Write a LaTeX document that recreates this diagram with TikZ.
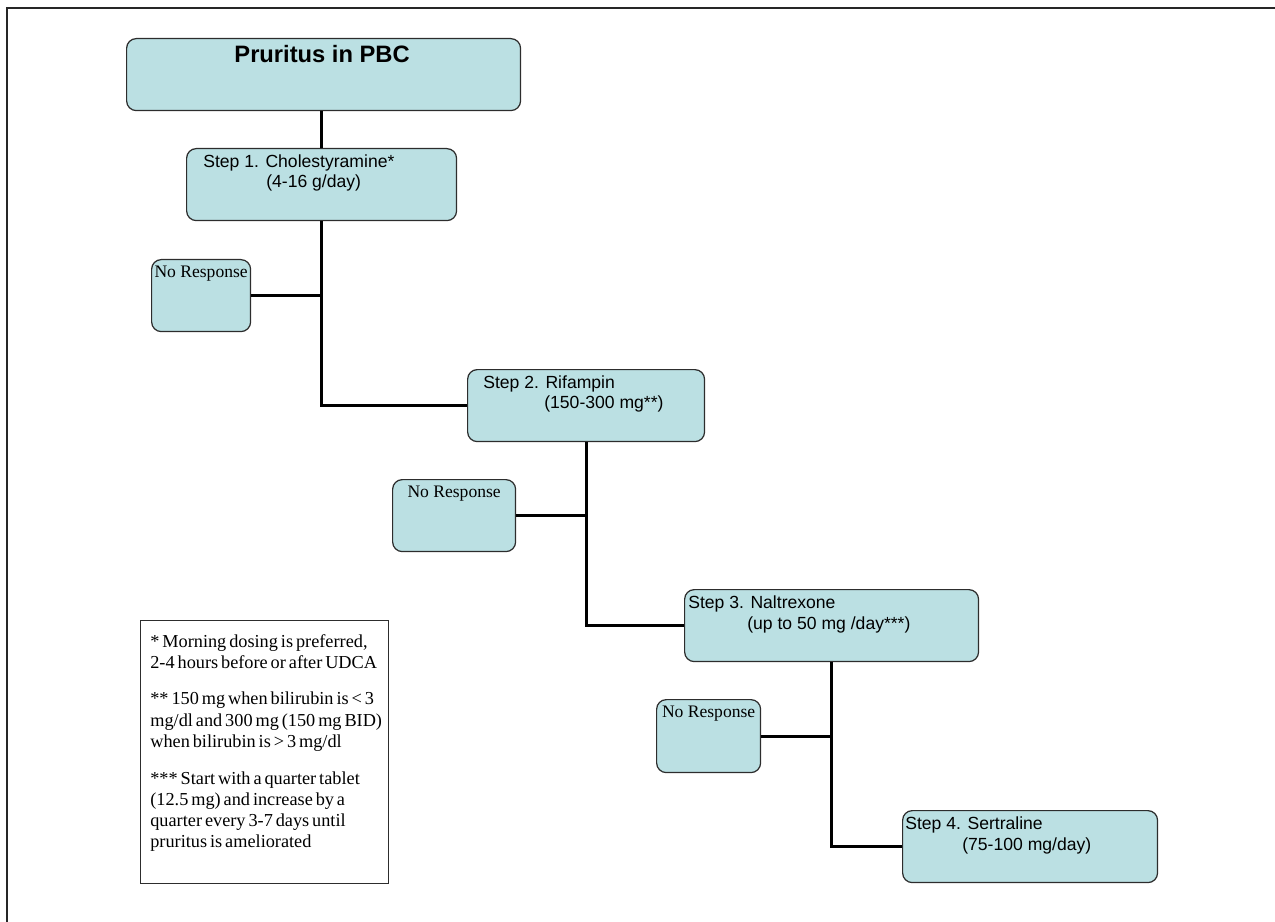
\documentclass[tikz,border=0pt]{standalone}
\usepackage{fontspec}
\setmainfont{Liberation Serif}
\newfontfamily\arialfont{Liberation Sans}
\usetikzlibrary{positioning}

\definecolor{boxfill}{RGB}{187,224,227}
\definecolor{boxline}{RGB}{45,45,45}
\newcommand{\tightsp}{\spaceskip=0.16em plus 0.04em\relax}

\tikzset{
  box/.style={draw=boxline, fill=boxfill, line width=0.7pt, rounded corners=5.5pt,
    anchor=north west, inner sep=0pt, minimum height=1.44cm},
  link/.style={line width=1.7pt},
  steptxt/.style={anchor=base west, inner sep=0pt, font=\arialfont\fontsize{10}{12}\selectfont},
  nrtxt/.style={anchor=base, inner sep=0pt, font=\fontsize{10}{12}\selectfont},
}

\begin{document}
\begin{tikzpicture}[x=0.02cm, y=-0.02cm]
   \useasboundingbox (0,0) rectangle (1275,922);
   \draw[line width=0.9pt, black!85] (7,922) -- (7,8) -- (1275,8);

   % boxes
   \node[box, minimum width=7.88cm] (pbc) at (126,38) {};
   \node[box, minimum width=5.40cm] (s1) at (186,148) {};
   \node[box, minimum width=1.98cm] (nr1) at (151,259) {};
   \node[box, minimum width=4.74cm] (s2) at (467,369) {};
   \node[box, minimum width=2.46cm] (nr2) at (392,479) {};
   \node[box, minimum width=5.88cm] (s3) at (684,589) {};
   \node[box, minimum width=2.08cm, minimum height=1.46cm] (nr3) at (656,699) {};
   \node[box, minimum width=5.10cm] (s4) at (902,810) {};
   \node[draw=boxline, line width=0.7pt, anchor=north west, inner sep=0pt,
     minimum width=4.96cm, minimum height=5.26cm] (notes) at (140,620) {};

   % texts
   \node[anchor=base, inner sep=0pt, font=\arialfont\bfseries\fontsize{13.5}{15}\selectfont]
     (pbctxt) at ([shift={(-1.5,25)}]pbc.north) {Pruritus in PBC};
   \node[steptxt] (s1a) at ([shift={(17,20)}]s1.north west) {Step 1. Cholestyramine*};
   \node[steptxt] (s1b) at ([shift={(80,40)}]s1.north west) {(4-16 g/day)};
   \node[steptxt] (s2a) at ([shift={(16,19)}]s2.north west) {Step 2. Rifampin};
   \node[steptxt] (s2b) at ([shift={(77,39)}]s2.north west) {(150-300 mg**)};
   \node[steptxt] (s3a) at ([shift={(4,19)}]s3.north west) {Step 3. Naltrexone};
   \node[steptxt] (s3b) at ([shift={(63,40)}]s3.north west) {(up to 50 mg /day***)};
   \node[steptxt] (s4a) at ([shift={(3,19)}]s4.north west) {Step 4. Sertraline};
   \node[steptxt] (s4b) at ([shift={(60,40)}]s4.north west) {(75-100 mg/day)};
   \node[nrtxt] (nr1t) at ([shift={(0,18)}]nr1.north) {No Response};
   \node[nrtxt] (nr2t) at ([shift={(0,18)}]nr2.north) {No Response};
   \node[nrtxt] (nr3t) at ([shift={(0,18)}]nr3.north) {No Response};
   \node[anchor=base west, inner sep=0pt, text width=6cm, align=left,
     font=\fontsize{10.4}{12}\selectfont]
     (notest) at ([shift={(10,27)}]notes.north west)
     {\tightsp * Morning dosing is preferred,\\
      2-4 hours before or after UDCA\\[9pt]
      ** 150 mg when bilirubin is < 3\\
      mg/dl and 300 mg (150 mg BID)\\
      when bilirubin is > 3 mg/dl\\[9pt]
      *** Start with a quarter tablet\\
      (12.5 mg) and increase by a\\
      quarter every 3-7 days until\\
      pruritus is ameliorated};

   % connectors
   \draw[link] (s1.north |- pbc.south) -- (s1.north);
   \draw[link] (s1.south) |- (s2.west);
   \draw[link] (nr1.east) -- (nr1.east -| s1.south);
   \draw[link] (s2.south) |- (s3.west);
   \draw[link] (nr2.east) -- (nr2.east -| s2.south);
   \draw[link] (s3.south) |- (s4.west);
   \draw[link] (nr3.east) -- (nr3.east -| s3.south);
\end{tikzpicture}
\end{document}
